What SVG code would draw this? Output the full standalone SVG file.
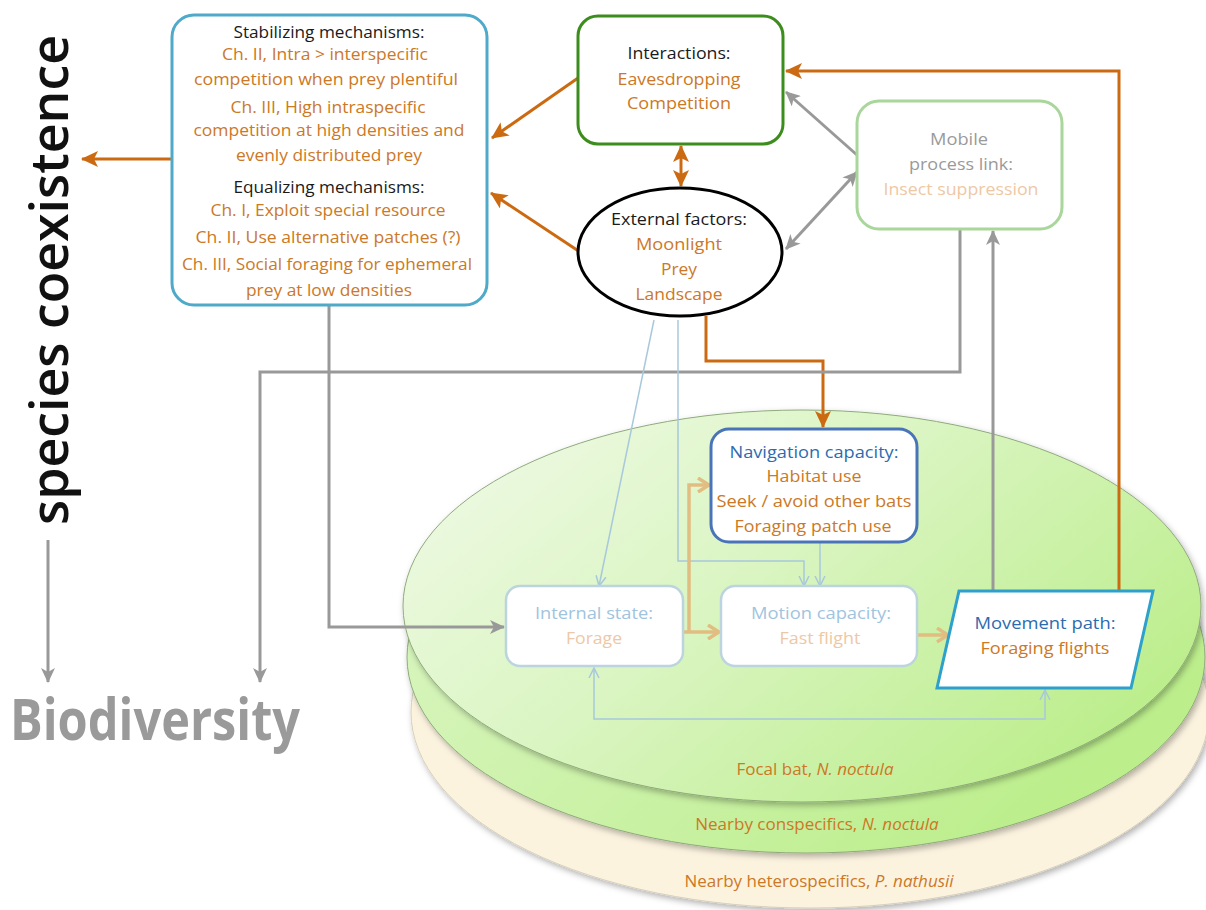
<svg xmlns="http://www.w3.org/2000/svg" width="1206" height="910" viewBox="0 0 1206 910">
<style>
  text { font-family: "Open Sans", "Noto Sans", "DejaVu Sans", sans-serif; font-size: 17px; text-anchor: middle; }
  .blk { fill: #1a1a1a; }
  .or { fill: #cc7826; }
  .gr { fill: #9a9a9a; }
  .lor { fill: #eec8a4; }
  .lbl { fill: #a0c4de; }
  .bl { fill: #2b6cb0; }
  .c-or { fill: none; stroke: #cc6a12; stroke-width: 3; }
  .c-gr { fill: none; stroke: #999999; stroke-width: 3; }
  .c-lb { fill: none; stroke: #a8c8dc; stroke-width: 1.5; }
  .c-tan { fill: none; stroke: #e2bd82; stroke-width: 3.5; }
</style>
<defs>
  <marker id="mOr" markerUnits="userSpaceOnUse" markerWidth="18" markerHeight="16" refX="16" refY="8" orient="auto-start-reverse">
    <path d="M0,0 L17,8 L0,16 L4,8 z" fill="#cc6a12"/>
  </marker>
  <marker id="mGr" markerUnits="userSpaceOnUse" markerWidth="16" markerHeight="14" refX="14" refY="7" orient="auto-start-reverse">
    <path d="M0,0 L15,7 L0,14 L4,7 z" fill="#999999"/>
  </marker>
  <marker id="mLb" markerUnits="userSpaceOnUse" markerWidth="12" markerHeight="12" refX="10" refY="6" orient="auto-start-reverse">
    <path d="M0,1 L10,6 L0,11" fill="none" stroke="#a8c8dc" stroke-width="1.5"/>
  </marker>
  <marker id="mTan" markerUnits="userSpaceOnUse" markerWidth="14" markerHeight="16" refX="12" refY="8" orient="auto-start-reverse">
    <path d="M1,1 L12,8 L1,15" fill="none" stroke="#e2bd82" stroke-width="3.5"/>
  </marker>
  <linearGradient id="gTop" x1="0" y1="0" x2="1" y2="0.6">
    <stop offset="0" stop-color="#f2faea"/>
    <stop offset="0.5" stop-color="#daf5c2"/>
    <stop offset="1" stop-color="#bdee8e"/>
  </linearGradient>
  <linearGradient id="gMid" x1="0" y1="0" x2="1" y2="0.5">
    <stop offset="0" stop-color="#dcf6c6"/>
    <stop offset="1" stop-color="#bcee8c"/>
  </linearGradient>
  <filter id="sh" x="-5%" y="-5%" width="115%" height="120%">
    <feDropShadow dx="2" dy="3" stdDeviation="3" flood-color="#000" flood-opacity="0.3"/>
  </filter>
</defs>

<g id="layer-heterospecifics">
  <ellipse cx="810" cy="712" rx="399" ry="196" fill="#fcf3df" stroke="#d8d0bc" stroke-width="1" filter="url(#sh)"/>
  <text x="819" y="887" class="or">Nearby heterospecifics, <tspan font-style="italic">P. nathusii</tspan></text>
</g>
<g id="layer-conspecifics">
  <ellipse cx="806" cy="657" rx="399" ry="196" fill="url(#gMid)" stroke="#8faa7c" stroke-width="1" filter="url(#sh)"/>
  <text x="817" y="830" class="or">Nearby conspecifics, <tspan font-style="italic">N. noctula</tspan></text>
</g>
<g id="layer-focal">
  <ellipse cx="802" cy="606" rx="399" ry="196" fill="url(#gTop)" stroke="#8faa7c" stroke-width="1" filter="url(#sh)"/>
  <text x="815" y="775" class="or">Focal bat, <tspan font-style="italic">N. noctula</tspan></text>
</g>

<g id="connectors">
  <path class="c-or" d="M172,159 L82,159" marker-end="url(#mOr)"/>
  <path class="c-or" d="M578,78 L492,138" marker-end="url(#mOr)"/>
  <path class="c-or" d="M580,252 L491,193" marker-end="url(#mOr)"/>
  <path class="c-or" d="M681,146 L681,186" marker-start="url(#mOr)" marker-end="url(#mOr)"/>
  <path class="c-or" d="M1119,590 L1119,71 L786,71" marker-end="url(#mOr)"/>
  <path class="c-or" d="M706,316 L706,361 L823,361 L823,427" marker-end="url(#mOr)"/>
  <path class="c-gr" d="M857,155 L786,92" marker-end="url(#mGr)"/>
  <path class="c-gr" d="M857,172 L786,249" marker-start="url(#mGr)" marker-end="url(#mGr)"/>
  <path class="c-gr" d="M993,590 L993,231" marker-end="url(#mGr)"/>
  <path class="c-gr" d="M960,229 L960,372 L260,372 L260,682" marker-end="url(#mGr)"/>
  <path class="c-gr" d="M329,305 L329,627 L504,627" marker-end="url(#mGr)"/>
  <path class="c-gr" d="M48,540 L48,682" marker-end="url(#mGr)"/>
  <path class="c-lb" d="M654,320 L599,586" marker-end="url(#mLb)"/>
  <path class="c-lb" d="M678,320 L678,561 L804,561 L804,586" marker-end="url(#mLb)"/>
  <path class="c-lb" d="M820,542 L820,586" marker-end="url(#mLb)"/>
  <path class="c-lb" d="M594,668 L594,719 L1045,719 L1045,690" marker-start="url(#mLb)" marker-end="url(#mLb)"/>
  <path class="c-tan" d="M683,632 L719,632" marker-end="url(#mTan)"/>
  <path class="c-tan" d="M689,632 L689,485 L709,485" marker-end="url(#mTan)"/>
  <path class="c-tan" d="M917,635 L948,635" marker-end="url(#mTan)"/>
</g>

<g id="species-coexistence">
  <text transform="translate(68,280) rotate(-90)" x="0" y="0" style="font-size:52px;font-weight:600;fill:#111" textLength="490" lengthAdjust="spacingAndGlyphs">species coexistence</text>
</g>
<g id="biodiversity">
  <text x="155" y="740" style="font-size:58px;font-weight:700;fill:#9a9a9a" textLength="290" lengthAdjust="spacingAndGlyphs">Biodiversity</text>
</g>

<g id="mechanisms">
  <rect x="172" y="15" width="315" height="290" rx="22" fill="#fff" stroke="#4eaac8" stroke-width="3"/>
  <text x="329" y="38" class="blk" textLength="191" lengthAdjust="spacingAndGlyphs">Stabilizing mechanisms:</text>
  <text x="325" y="60" class="or" textLength="206" lengthAdjust="spacingAndGlyphs">Ch. II, Intra &gt; interspecific</text>
  <text x="326" y="85" class="or" textLength="264" lengthAdjust="spacingAndGlyphs">competition when prey plentiful</text>
  <text x="328" y="113" class="or" textLength="195" lengthAdjust="spacingAndGlyphs">Ch. III, High intraspecific</text>
  <text x="329" y="136" class="or" textLength="271" lengthAdjust="spacingAndGlyphs">competition at high densities and</text>
  <text x="329" y="161" class="or" textLength="186" lengthAdjust="spacingAndGlyphs">evenly distributed prey</text>
  <text x="329" y="193" class="blk" textLength="191" lengthAdjust="spacingAndGlyphs">Equalizing mechanisms:</text>
  <text x="328" y="216" class="or" textLength="235" lengthAdjust="spacingAndGlyphs">Ch. I, Exploit special resource</text>
  <text x="328" y="243" class="or" textLength="265" lengthAdjust="spacingAndGlyphs">Ch. II, Use alternative patches (?)</text>
  <text x="327" y="270" class="or" textLength="290" lengthAdjust="spacingAndGlyphs">Ch. III, Social foraging for ephemeral</text>
  <text x="329" y="296" class="or" textLength="166" lengthAdjust="spacingAndGlyphs">prey at low densities</text>
</g>

<g id="interactions">
  <rect x="578" y="16" width="205" height="128" rx="20" fill="#fff" stroke="#3c8c1e" stroke-width="3"/>
  <text x="679" y="59" class="blk" textLength="103" lengthAdjust="spacingAndGlyphs">Interactions:</text>
  <text x="679" y="85" class="or" textLength="123" lengthAdjust="spacingAndGlyphs">Eavesdropping</text>
  <text x="679" y="109" class="or" textLength="104" lengthAdjust="spacingAndGlyphs">Competition</text>
</g>

<g id="external-factors">
  <ellipse cx="680" cy="252" rx="102" ry="64" fill="#fff" stroke="#000" stroke-width="3"/>
  <text x="679" y="225" class="blk" textLength="136" lengthAdjust="spacingAndGlyphs">External factors:</text>
  <text x="679" y="250" class="or" textLength="86" lengthAdjust="spacingAndGlyphs">Moonlight</text>
  <text x="679" y="275" class="or" textLength="36" lengthAdjust="spacingAndGlyphs">Prey</text>
  <text x="679" y="300" class="or" textLength="87" lengthAdjust="spacingAndGlyphs">Landscape</text>
</g>

<g id="mobile-link">
  <rect x="857" y="101" width="205" height="128" rx="22" fill="#fff" stroke="#a9d69a" stroke-width="3"/>
  <text x="959" y="145" class="gr" textLength="58" lengthAdjust="spacingAndGlyphs">Mobile</text>
  <text x="961" y="170" class="gr" textLength="104" lengthAdjust="spacingAndGlyphs">process link:</text>
  <text x="961" y="195" class="lor" textLength="155" lengthAdjust="spacingAndGlyphs">Insect suppression</text>
</g>

<g id="navigation">
  <rect x="711" y="429" width="206" height="113" rx="18" fill="#fff" stroke="#4a74b8" stroke-width="3"/>
  <text x="814" y="458" class="bl" textLength="169" lengthAdjust="spacingAndGlyphs">Navigation capacity:</text>
  <text x="814" y="482" class="or" textLength="95" lengthAdjust="spacingAndGlyphs">Habitat use</text>
  <text x="814" y="507" class="or" textLength="195" lengthAdjust="spacingAndGlyphs">Seek / avoid other bats</text>
  <text x="813" y="532" class="or" textLength="157" lengthAdjust="spacingAndGlyphs">Foraging patch use</text>
</g>

<g id="internal-state">
  <rect x="506" y="586" width="177" height="80" rx="14" fill="#fff" stroke="#bcd4de" stroke-width="2.5"/>
  <text x="594" y="619" class="lbl" textLength="118" lengthAdjust="spacingAndGlyphs">Internal state:</text>
  <text x="594" y="644" class="lor" textLength="56" lengthAdjust="spacingAndGlyphs">Forage</text>
</g>

<g id="motion-capacity">
  <rect x="721" y="586" width="196" height="80" rx="14" fill="#fff" stroke="#bcd4de" stroke-width="2.5"/>
  <text x="821" y="619" class="lbl" textLength="140" lengthAdjust="spacingAndGlyphs">Motion capacity:</text>
  <text x="820" y="644" class="lor" textLength="81" lengthAdjust="spacingAndGlyphs">Fast flight</text>
</g>

<g id="movement-path">
  <polygon points="959,591 1153,591 1131,688 937,688" fill="#fff" stroke="#2ea0cc" stroke-width="3"/>
  <text x="1045" y="629" class="bl" textLength="141" lengthAdjust="spacingAndGlyphs">Movement path:</text>
  <text x="1045" y="654" class="or" textLength="129" lengthAdjust="spacingAndGlyphs">Foraging flights</text>
</g>
</svg>
